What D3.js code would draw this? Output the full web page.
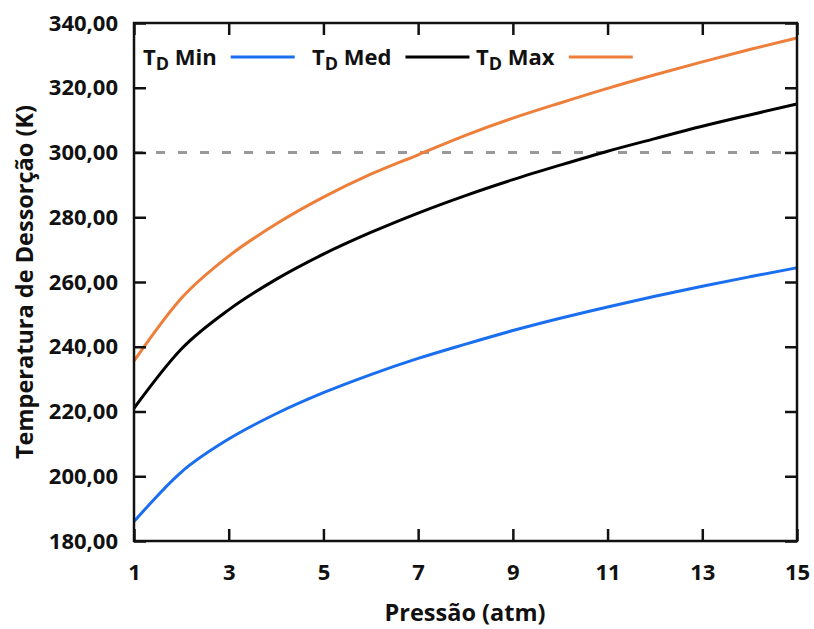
<!DOCTYPE html>
<html><head><meta charset="utf-8">
<script src="https://cdn.jsdelivr.net/npm/d3@7"></script>
<style>body{margin:0;background:#fff}svg{display:block}text{font-family:"Open Sans","Noto Sans",sans-serif;font-weight:700;fill:#111}</style>
</head><body><svg id="c" width="814" height="629"></svg>
<script>
const pressure = [1,2,3,4,5,6,7,8,9,10,11,12,13,14,15];
const tdMin = [186.0,201.3,211.5,219.3,225.8,231.4,236.4,240.8,245.0,248.8,252.3,255.6,258.7,261.6,264.4];
const tdMed = [221.0,239.3,251.4,260.8,268.6,275.3,281.3,286.7,291.6,296.1,300.4,304.3,308.1,311.6,315.0];
const tdMax = [235.6,255.0,268.0,277.9,286.2,293.3,299.3,305.3,310.6,315.3,319.8,324.0,328.0,331.8,335.4];
const xTicks = [1,3,5,7,9,11,13,15];
const yTicks = [180,200,220,240,260,280,300,320,340];
const refLine = 300;
const seriesNames = ["Min","Med","Max"];
const colors = ["#1a6ef0","#000000","#ee7f3b"];

const svg = d3.select("#c");
const m = {l:134, t:23, r:17, b:88};
const W = 814, H = 629;
const x = d3.scaleLinear().domain([1,15]).range([m.l, W-m.r]);
const y = d3.scaleLinear().domain([180,340]).range([H-m.b, m.t]);
const fmt = d => d.toFixed(2).replace(".", ",");

// reference dashed line
svg.append("line").attr("x1", x(1)).attr("x2", x(15)).attr("y1", y(refLine)).attr("y2", y(refLine))
  .attr("stroke","#999").attr("stroke-width",3).attr("stroke-dasharray","9,13");

// lines
const data = [tdMin, tdMed, tdMax];
const line = d3.line().x((d,i)=>x(pressure[i])).y(d=>y(d)).curve(d3.curveMonotoneX);
data.forEach((s,k)=>{
  svg.append("path").attr("d", line(s)).attr("fill","none").attr("stroke",colors[k]).attr("stroke-width",3);
});

// axes
const axB = d3.axisBottom(x).tickValues(xTicks).tickSizeInner(-12).tickSizeOuter(0).tickPadding(23).tickFormat(d3.format("d"));
const axT = d3.axisTop(x).tickValues(xTicks).tickSizeInner(-12).tickSizeOuter(0).tickFormat("");
const axL = d3.axisLeft(y).tickValues(yTicks).tickSizeInner(-12).tickSizeOuter(0).tickPadding(16).tickFormat(fmt);
const axR = d3.axisRight(y).tickValues(yTicks).tickSizeInner(-12).tickSizeOuter(0).tickFormat("");
function style(g){ g.select(".domain").remove(); g.selectAll(".tick line").attr("stroke","#111").attr("stroke-width",2.5);
  g.selectAll("text").attr("font-size",22).attr("fill","#111").style("font-weight",700); }
svg.append("g").attr("transform",`translate(0,${H-m.b})`).call(axB).call(style);
svg.append("g").attr("transform",`translate(0,${m.t})`).call(axT).call(style);
svg.append("g").attr("transform",`translate(${m.l},0)`).call(axL).call(style);
svg.append("g").attr("transform",`translate(${W-m.r},0)`).call(axR).call(style);
svg.append("rect").attr("x",m.l).attr("y",m.t).attr("width",W-m.l-m.r).attr("height",H-m.t-m.b)
  .attr("fill","none").attr("stroke","#111").attr("stroke-width",2.5);

// axis titles
svg.append("text").attr("x",465).attr("y",621).attr("text-anchor","middle").attr("font-size",23.5).text("Pressão (atm)");
svg.append("text").attr("transform",`translate(33,282) rotate(-90)`).attr("text-anchor","middle").attr("font-size",23.5).text("Temperatura de Dessorção (K)");

// legend
const legX = [143, 312, 476];
seriesNames.forEach((n,k)=>{
  const t = svg.append("text").attr("x",legX[k]).attr("y",65).attr("font-size",22);
  t.append("tspan").text("T");
  t.append("tspan").attr("dy",5).attr("font-size",18).text("D");
  t.append("tspan").attr("dy",-5).text(" " + n);
  const bb = t.node().getBBox();
  const lx = bb.x + bb.width + 14;
  svg.append("line").attr("x1",lx).attr("x2",lx+64).attr("y1",57).attr("y2",57).attr("stroke",colors[k]).attr("stroke-width",3);
});
</script></body></html>
